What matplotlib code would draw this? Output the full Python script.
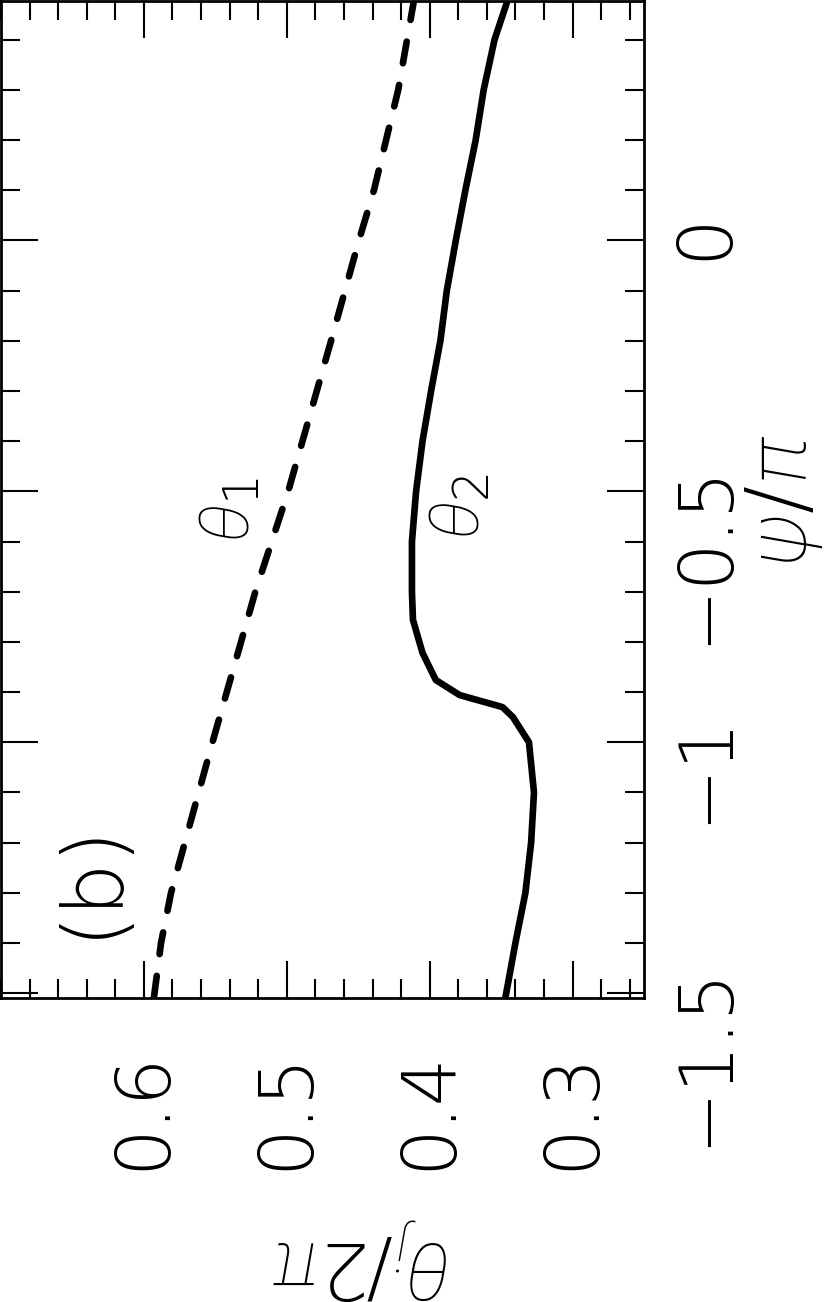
import matplotlib
matplotlib.use('Agg')
import matplotlib.pyplot as plt
from matplotlib.ticker import FixedLocator, MultipleLocator, FuncFormatter

# data (psi/pi on the vertical axis, theta_j/2pi across)
psi_1 = [-1.509, -1.4, -1.3, -1.0, -0.7, -0.5, -0.2, 0.0, 0.1, 0.3, 0.478]
theta_1 = [0.593, 0.588, 0.581, 0.552, 0.522, 0.499, 0.469, 0.4495, 0.439, 0.422, 0.411]

psi_2 = [-1.509, -1.4, -1.3, -1.2, -1.1, -1.0, -0.95, -0.93, -0.906, -0.876, -0.822,
         -0.756, -0.7, -0.6, -0.5, -0.4, -0.3, -0.2, -0.1, 0.0, 0.1, 0.2, 0.3, 0.4, 0.478]
theta_2 = [0.347, 0.340, 0.333, 0.329, 0.327, 0.3305, 0.3417, 0.349, 0.379, 0.3957, 0.405,
           0.4117, 0.4124, 0.4124, 0.4095, 0.405, 0.399, 0.3925, 0.388, 0.3817, 0.375,
           0.3678, 0.3622, 0.3546, 0.3455]

theta_ticks = [0.3, 0.4, 0.5, 0.6]
psi_ticks = [-1.5, -1.0, -0.5, 0.0]

plt.rcParams['font.family'] = ['DejaVu Sans']
plt.rcParams['mathtext.fontset'] = 'custom'
plt.rcParams['mathtext.rm'] = 'DejaVu Sans:weight=200'
plt.rcParams['mathtext.it'] = 'Roboto:style=italic:weight=100'

W, H = 837, 1302
fig = plt.figure(figsize=(W / 100, H / 100), dpi=100)

# axes placed in pixels of the reference, the top spine sits on the edge
left, right, bottom, top = 1, 644, 997.7, 0.5
ax = fig.add_axes([left / W, 1 - bottom / H, (right - left) / W, (bottom - top) / H])

ax.plot(theta_1, psi_1, color='black', lw=4.8, ls=(0, (3.3, 3.3)),
        dash_capstyle='round', solid_capstyle='round')
ax.plot(theta_2, psi_2, color='black', lw=4.8, solid_capstyle='round')

ax.set_xlim(0.70, 0.25)
ax.set_ylim(-1.509, 0.478)

ax.xaxis.set_major_locator(FixedLocator(theta_ticks))
ax.xaxis.set_minor_locator(MultipleLocator(0.02))
ax.yaxis.set_major_locator(FixedLocator(psi_ticks))
ax.yaxis.set_minor_locator(MultipleLocator(0.1))

fmt = FuncFormatter(lambda v, p: ('%g' % v).replace('-', '\u2212'))
ax.xaxis.set_major_formatter(fmt)
ax.yaxis.set_major_formatter(fmt)

ax.tick_params(which='both', direction='in', top=True, bottom=True, left=True, right=True,
               labelleft=False, labelright=True, labelbottom=True, width=1.5)
ax.tick_params(which='major', length=26.5)
ax.tick_params(which='minor', length=14)
ax.tick_params(axis='x', which='major', labelrotation=90, pad=38, labelsize=54)
ax.tick_params(axis='y', which='major', labelrotation=90, pad=18, labelsize=54)
for lab in ax.get_xticklabels() + ax.get_yticklabels():
    lab.set_fontweight(200)

for sp in ax.spines.values():
    sp.set_linewidth(2)

# curve labels and panel tag
ax.text(0.5396, -0.537, r'$\theta_1$', rotation=90, ha='center', va='center', fontsize=50)
ax.text(0.379, -0.53, r'$\theta_2$', rotation=90, ha='center', va='center', fontsize=50)
ax.text(0.6364, -1.273, '(b)', rotation=90, ha='center', va='center', fontsize=60,
        fontweight=200)

# axis titles, placed like the rotated original (anchored on the baseline)
fig.text(806 / W, 1 - 501 / H, r'$\psi/\pi$', rotation=90, rotation_mode='anchor',
         ha='center', va='baseline', fontsize=60)
fig.text(362 / W, 1 - 1243 / H, r'$\theta_j/2\pi$', rotation=180, rotation_mode='anchor',
         ha='center', va='baseline', fontsize=57)

fig.savefig('out.png', dpi=100)
